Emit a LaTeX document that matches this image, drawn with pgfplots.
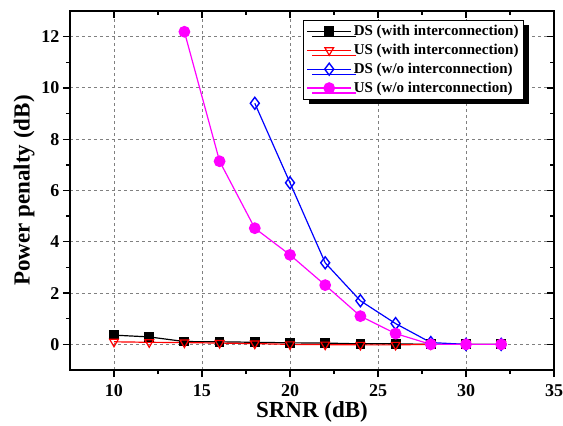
\documentclass[border=0pt]{standalone}
\usepackage{fontspec}
\setmainfont{Liberation Serif}
\usepackage{pgfplots}
\pgfplotsset{compat=1.18}
\usetikzlibrary{shadows}
\definecolor{mag}{RGB}{255,0,255}
\definecolor{blu}{RGB}{0,0,255}
\definecolor{rd}{RGB}{255,0,0}

\pgfplotsset{
  frame/.style={
    scale only axis,
    width=484pt, height=359pt,
    xmin=7.5, xmax=35, ymin=-1, ymax=13,
    xtick={10,15,...,35}, ytick={0,2,...,12},
    minor x tick num=1, minor y tick num=1,
    major tick length=7pt, minor tick length=4pt,
    every tick/.style={black, line width=1.4pt},
    axis line style={line width=1.8pt},
  }
}

\begin{document}
\begin{tikzpicture}
\begin{axis}[
    frame,
    xtick pos=bottom, ytick pos=left,
    tick align=outside,
    grid=major,
    major grid style={dash pattern=on 3pt off 3pt, gray, line width=0.9pt},
    /pgf/number format/assume math mode=true,
    tick label style={font=\fontsize{18}{20}\selectfont\bfseries},
    xticklabel style={yshift=-4pt},
    xlabel={SRNR (dB)}, ylabel={Power penalty (dB)},
    label style={font=\fontsize{23}{26}\selectfont\bfseries},
    xlabel style={at={(axis description cs:0.5,-0.117)}, anchor=center},
    ylabel style={at={(axis description cs:-0.095,0.5)}, anchor=center},
    legend style={at={(0.938,0.975)}, anchor=north east, draw=black, line width=0.9pt,
        fill=white, font=\fontsize{15}{17}\selectfont\bfseries,
        drop shadow={shadow xshift=5pt, shadow yshift=-5pt, fill=black, opacity=1},
        row sep=3pt, inner sep=3pt},
    legend cell align=left,
    legend image code/.code={\draw[mark repeat=2, mark phase=2] plot coordinates {(0pt,0pt) (22pt,0pt) (44pt,0pt)};},
]
\addplot[black, line width=1.2pt, mark=square*, mark size=4.3pt, mark options={solid}] coordinates {
 (10,0.36) (12,0.29) (14,0.11) (16,0.10) (18,0.08) (20,0.06) (22,0.05) (24,0.02) (26,0.02) (28,0) (30,0) (32,0)};
\addplot[rd, line width=1.2pt, mark=triangle, mark size=5pt, mark options={rotate=180, fill=white, line width=1.2pt}] coordinates {
 (10,0.10) (12,0.08) (14,0.07) (16,0.05) (18,0.03) (20,0.0) (22,-0.01) (24,-0.02) (26,-0.02) (28,0) (30,0) (32,0)};
\addplot[blu, line width=1.2pt, mark=diamond, mark size=6pt, mark options={fill=white, line width=1.4pt}] coordinates {
 (18,9.4) (20,6.3) (22,3.18) (24,1.7) (26,0.81) (28,0.07) (30,0) (32,0)};
\addplot[mag, line width=1.2pt, mark=*, mark size=5.3pt] coordinates {
 (14,12.19) (16,7.14) (18,4.53) (20,3.49) (22,2.31) (24,1.1) (26,0.42) (28,0) (30,0) (32,0)};
\legend{DS (with interconnection), US (with interconnection), DS (w/o interconnection), US (w/o interconnection)}
\end{axis}
\begin{axis}[
    frame,
    xtick pos=top, ytick pos=right,
    tick align=inside,
    xticklabels={}, yticklabels={},
]
\end{axis}
\pgfresetboundingbox
\path ([xshift=-70pt,yshift=-56pt]current axis.south west) rectangle ([xshift=9pt,yshift=11pt]current axis.north east);
\end{tikzpicture}
\end{document}
